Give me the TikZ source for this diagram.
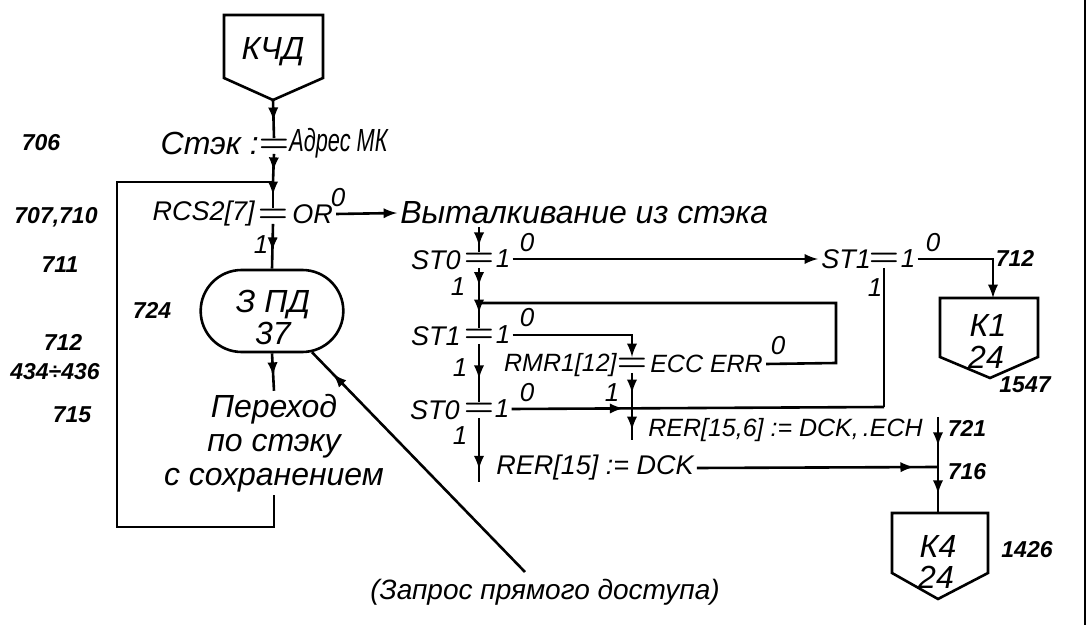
\documentclass[tikz,border=0pt]{standalone}
\usepackage{fontspec}
\setmainfont{Liberation Sans}
\usepackage{tikz}
\usetikzlibrary{positioning,shapes.misc,decorations.markings}

\begin{document}
\begin{tikzpicture}[x=0.5pt,y=-0.5pt,
	line width=1.3pt,
	big/.style={font=\itshape\fontsize{16}{17}\selectfont, inner sep=1pt},
	mid/.style={font=\itshape\fontsize{13.5}{15}\selectfont, inner sep=1pt},
	sml/.style={font=\itshape\fontsize{12.5}{14}\selectfont, inner sep=1pt},
	num/.style={font=\itshape\bfseries\fontsize{11.5}{13}\selectfont, inner sep=1pt},
	bit/.style={font=\itshape\fontsize{13}{15}\selectfont, inner sep=0.5pt},
	eqs/.style={font=\fontsize{17}{17}\selectfont\boldmath, inner sep=0pt},
	midarr/.style={postaction={decorate},
		decoration={markings,mark=at position #1 with {\arrow{latex}}}},
	twoarr/.style 2 args={postaction={decorate},
		decoration={markings,mark=at position #1 with {\arrow{latex}},
			mark=at position #2 with {\arrow{latex}}}}
	]
	\useasboundingbox (0,0) rectangle (1088,625);
	
	% KChD
	\draw (224,15) -- (323,15) -- (323,78) -- (273,100) -- (224,78) -- cycle;
	\node [big] (kcd) at (273,52) {КЧД};
	\coordinate (kcdtip) at (273,100);
	
	% Stek := Adres MK
	\node [eqs] (eq1) at (274,146) {$=$};
	\node [big, anchor=east] (stek) at (262,143) {Стэк :};
	\node [big, anchor=west] (adr) at (286,143) {\scalebox{0.68}[1]{Адрес МК}};
	\node [num] (n706) at (41,143) {706};
	\coordinate (jtop) at (273,182);
	
	% RCS2[7] = OR
	\node [eqs] (eq2) at (273,216) {$=$};
	\node [mid, anchor=east] (rcs) at (258,214) {RCS2[7]};
	\node [mid, anchor=west] (rcsor) at (289,214) {OR};
	\node [bit] (or0) at (338,198) {0};
	\node [bit] (or1) at (261,245) {1};
	\node [big, anchor=west] (vyt) at (397,213) {Выталкивание из стэка};
	\node [num] (n707) at (56,217) {707,710};
	\node [num] (n711) at (60,265) {711};
	
	% ZPD
	\node [draw, rounded rectangle,
		minimum width=78pt,
		minimum height=41pt
		] (zpd) at (272,311) {};
	\node [big] (zpdt) at (273,305) {З ПД};
	\node [big] (zpdn) at (273,333) {37};
	\node [num] (n724) at (152,310) {724};
	\node [num] (n712) at (63,342) {712};
	\node [num] (n434) at (55,372) {434÷436};
	\node [num] (n715) at (72,415) {715};
	
	% Perehod
	\node [big, align=center] (pereh) at (274,443) {Переход\\по стэку\\с сохранением};
	\coordinate (lpl) at (117,527);
	
	% Zapros
	\node [font=\itshape\fontsize{14}{15}\selectfont] (zapr) at (545,592) {(Запрос прямого доступа)};
	\coordinate (zq) at (525,572);
	
	% ST0 (upper)
	\node [eqs] (eq3) at (479,260) {$=$};
	\node [mid, anchor=east] (st0a) at (464,260) {ST0};
	\node [bit] (st0a1) at (503,259) {1};
	\node [bit] (st0a0) at (527,243) {0};
	\node [bit] (st0a1d) at (458,287) {1};
	\coordinate (jst) at (479,303);
	
	% ST1 (right)
	\node [mid, anchor=west] (st1r) at (818,259) {ST1};
	\node [eqs] (eq4) at (884,260) {$=$};
	\node [bit] (st1r1) at (908,259) {1};
	\node [bit] (st1r0) at (933,243) {0};
	\node [bit] (st1r1d) at (875,288) {1};
	\node [num] (n712r) at (1015,258) {712};
	
	% K1
	\draw (940,298) -- (1038,298) -- (1038,357) -- (990,378) -- (940,357) -- cycle;
	\coordinate (k1top) at (993,298);
	\node [big] (k1) at (988,325) {К1};
	\node [big] (k124) at (986,357) {24};
	\node [num] (n1547) at (1025,385) {1547};
	
	% ST1 (left)
	\node [eqs] (eq5) at (479,336) {$=$};
	\node [mid, anchor=east] (st1a) at (464,336) {ST1};
	\node [bit] (st1a1) at (503,335) {1};
	\node [bit] (st1a0) at (527,318) {0};
	\node [bit] (st1a1d) at (460,368) {1};
	
	% RMR1[12] = ECC ERR
	\node [eqs] (eq6) at (632,365) {$=$};
	\node [sml, anchor=east] (rmr) at (620,365) {RMR1[12]};
	\node [sml, anchor=west] (ecc) at (647,364) {ECC ERR};
	\node [bit] (ecc0) at (778,346) {0};
	\node [bit] (ecc1) at (612,393) {1};
	\coordinate (eccr) at (836,363);
	
	% ST0 (lower)
	\node [eqs] (eq7) at (479,410) {$=$};
	\node [mid, anchor=east] (st0b) at (463,410) {ST0};
	\node [bit] (st0b1) at (502,409) {1};
	\node [bit] (st0b0) at (527,393) {0};
	\node [bit] (st0b1d) at (460,436) {1};
	\coordinate (jright) at (884,407);
	
	% RER statements
	\coordinate (rerin) at (632,440);
	\node [sml, anchor=west] (rer156) at (645,430) {RER[15,6] := DCK,\,.ECH};
	\coordinate (rerb) at (479,482);
	\node [mid, anchor=west] (rer15) at (493,468) {RER[15] := DCK};
	\coordinate (c721) at (938,417);
	\coordinate (jk4) at (938,467);
	\node [num] (n721) at (967,428) {721};
	\node [num] (n716) at (967,472) {716};
	
	% K4
	\draw (892,513) -- (988,513) -- (988,573) -- (938,599) -- (892,573) -- cycle;
	\coordinate (k4top) at (938,513);
	\node [big] (k4) at (938,546) {К4};
	\node [big] (k424) at (936,577) {24};
	\node [num] (n1426) at (1027,550) {1426};
	
	% frame
	\coordinate (fr1) at (1085,0);
	\coordinate (fr2) at (1085,625);
	\draw (fr1) -- (fr2);
	
	% Arrows
	\draw[midarr=0.55] (kcdtip) -- (eq1.north);
	\draw[midarr=0.6] (eq1.south) -- (jtop);
	\draw[midarr=0.5] (jtop) -- (eq2.north);
	\draw[midarr=0.6] (eq2.south) -- (zpd.north);
	\draw[-latex] (rcsor.east) -- (vyt.west);
	\draw[midarr=0.6] (zpd.south) -- (pereh.north);
	\draw (pereh.south) |- (lpl) |- (jtop);
	\draw[midarr=0.9] (zq) -- (zpd);
	\draw[midarr=0.75] (vyt.south -| eq3) -- (eq3.north);
	\draw[midarr=0.5] (eq3.south) -- (jst);
	\draw[midarr=0.4] (jst) -- (eq5.north);
	\draw[-latex] (st0a1.east) -- (st1r.west);
	\draw[-latex] (st1r1.east) -| (k1top);
	\draw[-latex] (st1a1.east) -| (eq6.north);
	\draw (ecc.east) -- (eccr) |- (jst);
	\draw[midarr=0.6] (eq5.south) -- (eq7.north);
	\draw[midarr=0.3] (st0b1.east) -- (jright);
	\draw (eq4.south) -- (jright);
	\draw[twoarr={0.3}{0.85}] (eq6.south) -- (rerin);
	\draw[midarr=0.8] (eq7.south) -- (rerb);
	\draw[midarr=0.9] (rer15.east) -- (jk4);
	\draw[twoarr={0.3}{0.8}] (c721) -- (k4top);
	
\end{tikzpicture}
\end{document}
